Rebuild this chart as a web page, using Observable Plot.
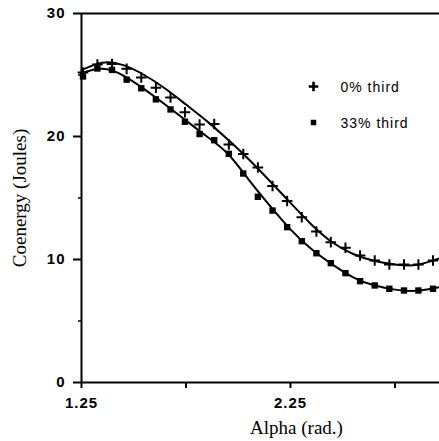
<!DOCTYPE html>
<html><head><meta charset="utf-8">
<script src="https://cdn.jsdelivr.net/npm/d3@7"></script>
<script src="https://cdn.jsdelivr.net/npm/@observablehq/plot@0.6"></script>
<style>
html,body{margin:0;padding:0;background:#fff;}
#chart{position:relative;width:439px;height:441px;overflow:hidden;}
g[font-family="Liberation Serif"]{letter-spacing:0;}
</style></head><body><div id="chart"></div>
<script>
// measured points (alpha in rad)
const alpha = [1.257,1.326,1.396,1.466,1.536,1.606,1.676,1.745,1.815,1.885,1.955,2.024,2.094,2.164,2.234,2.304,2.374,2.443,2.513,2.583,2.653,2.723,2.793,2.862,2.932];
const third0 = [25.2,25.85,25.9,25.5,24.8,23.96,23.17,21.97,20.98,21.02,19.35,18.58,17.48,15.98,14.76,13.44,12.28,11.41,10.95,10.33,9.92,9.59,9.59,9.59,9.92];
const third33 = [24.88,25.53,25.41,24.62,23.92,23.02,22.2,21.2,20.2,19.7,18.59,16.99,15.1,13.98,12.63,11.49,10.51,9.7,8.89,8.24,7.89,7.62,7.48,7.48,7.62];
// fitted curves
const fitAlpha = [1.25,1.35,1.45,1.55,1.65,1.75,1.85,1.95,2.05,2.15,2.25,2.35,2.45,2.55,2.65,2.75,2.85,2.963];
const fit0 = [25.4,26.0,25.8,25.0,23.9,22.6,21.25,19.75,18.15,16.4,14.6,12.85,11.4,10.45,9.9,9.6,9.55,10.1];
const fit33 = [25.15,25.5,24.95,23.85,22.6,21.3,20.0,18.6,16.5,14.4,12.45,10.85,9.6,8.55,7.9,7.55,7.45,7.75];
// axes
const xTicks = [1.25,1.75,2.25,2.75];
const xTickLabels = ["1.25","","2.25",""];
const yTicks = [0,10,20,30];
const yMinor = [5,15,25];
const seriesNames = ["0% third","33% third"];
const xLabel = "Alpha (rad.)";
const yLabel = "Coenergy (Joules)";

const pts0 = alpha.map((a,i)=>({a, v: third0[i]}));
const pts33 = alpha.map((a,i)=>({a, v: third33[i]}));
const f0 = fitAlpha.map((a,i)=>({a, v: fit0[i]}));
const f33 = fitAlpha.map((a,i)=>({a, v: fit33[i]}));

const chart = Plot.plot({
  width: 439, height: 441,
  marginLeft: 81, marginTop: 13, marginRight: 0, marginBottom: 59,
  style: {fontFamily: "'Liberation Sans', Arial, sans-serif", fontSize: "15px", letterSpacing: "1px", background: "#fff", color: "#000"},
  x: {type: "linear", domain: [1.25, 2.963]},
  y: {type: "linear", domain: [0, 30]},
  marks: [
    Plot.ruleY([30], {stroke: "black", strokeWidth: 2}),
    Plot.ruleY([0], {stroke: "black", strokeWidth: 2}),
    Plot.ruleX([1.25], {stroke: "black", strokeWidth: 2}),
    Plot.axisX({ticks: xTicks, tickSize: 6, tickPadding: 9, strokeWidth: 2, fontWeight: "bold", fontSize: 15, tickFormat: (d,i) => xTickLabels[i], label: null}),
    Plot.axisY({ticks: yTicks, tickSize: 8, tickPadding: 8, strokeWidth: 2, fontWeight: "bold", fontSize: 15, tickFormat: d => String(d), label: null}),
    Plot.axisY({ticks: yMinor, tickSize: 3, strokeWidth: 1.5, tickFormat: () => "", label: null}),
    Plot.line(f0, {x: "a", y: "v", curve: "natural", stroke: "black", strokeWidth: 2}),
    Plot.line(f33, {x: "a", y: "v", curve: "natural", stroke: "black", strokeWidth: 2}),
    Plot.dot(pts0, {x: "a", y: "v", symbol: "plus", r: 3.5, stroke: "black", strokeWidth: 2}),
    Plot.dot(pts33, {x: "a", y: "v", symbol: "square", r: 3.6, fill: "black"}),
    // legend
    Plot.dot([0], {frameAnchor: "top-left", dx: 232, dy: 73, symbol: "plus", r: 3.2, stroke: "black", strokeWidth: 2.6}),
    Plot.dot([0], {frameAnchor: "top-left", dx: 232, dy: 109, symbol: "square", r: 3.1, fill: "black"}),
    Plot.text([seriesNames[0]], {frameAnchor: "top-left", dx: 259, dy: 74, text: d => d, textAnchor: "start", lineAnchor: "middle", fontSize: 14}),
    Plot.text([seriesNames[1]], {frameAnchor: "top-left", dx: 259, dy: 110, text: d => d, textAnchor: "start", lineAnchor: "middle", fontSize: 14}),
    // axis titles
    Plot.text([xLabel], {frameAnchor: "bottom", dx: 36, dy: 45, text: d => d, textAnchor: "middle", lineAnchor: "middle", fontFamily: "Liberation Serif", fontSize: 19}),
    Plot.text([yLabel], {frameAnchor: "left", dx: -62, dy: 0, text: d => d, rotate: -90, textAnchor: "middle", lineAnchor: "middle", fontFamily: "Liberation Serif", fontSize: 19})
  ]
});
document.getElementById("chart").appendChild(chart);
</script></body></html>
